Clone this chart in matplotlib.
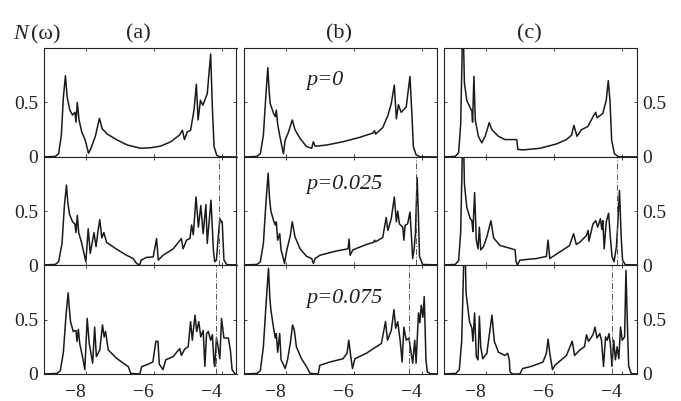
import matplotlib
matplotlib.use('Agg')
import matplotlib.pyplot as plt
from matplotlib import font_manager
import numpy as np

# Times-like serif, whichever is installed
installed = {f.name for f in font_manager.fontManager.ttflist}
serif = next(n for n in ['Liberation Serif', 'Tinos', 'Times New Roman', 'STIXGeneral', 'DejaVu Serif']
             if n in installed)
plt.rcParams['font.family'] = [serif, 'DejaVu Serif']

# (omega, N(omega)) points, one list per panel
a1 = [(-9.3, 0), (-8.9, 0.005), (-8.8, 0.03), (-8.72, 0.2), (-8.66, 0.55), (-8.60, 0.745),
      (-8.55, 0.55), (-8.47, 0.43), (-8.39, 0.385), (-8.32, 0.41), (-8.29, 0.32), (-8.25, 0.50),
      (-8.20, 0.34), (-8.12, 0.23), (-8.02, 0.156), (-7.92, 0.034), (-7.85, 0.08), (-7.72, 0.19),
      (-7.60, 0.355), (-7.52, 0.26), (-7.37, 0.21), (-7.08, 0.156), (-6.78, 0.11), (-6.39, 0.08),
      (-6.1, 0.085), (-5.8, 0.10), (-5.5, 0.14), (-5.25, 0.20), (-5.16, 0.245), (-5.1, 0.16),
      (-5.02, 0.23), (-4.92, 0.245), (-4.82, 0.43), (-4.75, 0.667), (-4.70, 0.34), (-4.63, 0.52),
      (-4.56, 0.475), (-4.43, 0.58), (-4.33, 0.945), (-4.28, 0.46), (-4.23, 0.095), (-4.15, 0.015),
      (-4.05, 0.002), (-3.4, 0)]
b1 = [(-9.3, 0), (-8.85, 0.005), (-8.75, 0.03), (-8.66, 0.2), (-8.59, 0.55), (-8.53, 0.82),
      (-8.49, 0.6), (-8.46, 0.49), (-8.36, 0.40), (-8.31, 0.37), (-8.28, 0.43), (-8.24, 0.30),
      (-8.17, 0.18), (-8.07, 0.03), (-8.02, 0.155), (-7.92, 0.23), (-7.81, 0.34), (-7.73, 0.25),
      (-7.58, 0.17), (-7.39, 0.095), (-7.24, 0.08), (-7.19, 0.14), (-7.14, 0.10), (-7.09, 0.10),
      (-6.80, 0.11), (-6.32, 0.14), (-5.83, 0.18), (-5.44, 0.22), (-5.39, 0.24), (-5.36, 0.21),
      (-5.15, 0.27), (-5.0, 0.38), (-4.9, 0.49), (-4.81, 0.66), (-4.75, 0.35), (-4.69, 0.48),
      (-4.61, 0.41), (-4.46, 0.46), (-4.35, 0.74), (-4.29, 0.37), (-4.25, 0.095), (-4.17, 0.02),
      (-4.05, 0.002), (-3.4, 0)]
c1 = [(-9.3, 0), (-8.9, 0.005), (-8.8, 0.04), (-8.74, 0.3), (-8.7, 0.9), (-8.68, 1.4),
      (-8.63, 0.68), (-8.56, 0.52), (-8.46, 0.45), (-8.41, 0.42), (-8.39, 0.32), (-8.35, 0.74),
      (-8.31, 0.34), (-8.22, 0.19), (-8.12, 0.13), (-8.02, 0.19), (-7.90, 0.315), (-7.82, 0.25),
      (-7.63, 0.19), (-7.44, 0.16), (-7.09, 0.16), (-7.06, 0.07), (-6.90, 0.065), (-6.41, 0.08),
      (-5.92, 0.12), (-5.63, 0.16), (-5.48, 0.20), (-5.41, 0.29), (-5.32, 0.19), (-5.19, 0.25),
      (-5.0, 0.28), (-4.83, 0.38), (-4.77, 0.41), (-4.73, 0.36), (-4.56, 0.40), (-4.46, 0.52),
      (-4.40, 0.70), (-4.35, 0.52), (-4.30, 0.155), (-4.22, 0.03), (-4.1, 0.002), (-3.4, 0)]

a2 = [(-9.3, 0), (-8.9, 0.005), (-8.8, 0.03), (-8.7, 0.2), (-8.63, 0.55), (-8.57, 0.74),
      (-8.53, 0.58), (-8.48, 0.47), (-8.39, 0.40), (-8.32, 0.38), (-8.29, 0.30), (-8.25, 0.46),
      (-8.21, 0.30), (-8.12, 0.20), (-8.0, 0.03), (-7.93, 0.335), (-7.87, 0.107), (-7.76, 0.30),
      (-7.70, 0.17), (-7.64, 0.32), (-7.59, 0.42), (-7.53, 0.25), (-7.47, 0.30), (-7.39, 0.21),
      (-7.10, 0.147), (-6.8, 0.09), (-6.61, 0.06), (-6.51, 0.015), (-6.42, 0.0), (-6.37, 0.046),
      (-6.22, 0.07), (-6.02, 0.075), (-5.92, 0.245), (-5.87, 0.046), (-5.73, 0.09), (-5.43, 0.15),
      (-5.19, 0.245), (-5.14, 0.15), (-5.04, 0.23), (-4.94, 0.245), (-4.89, 0.37), (-4.84, 0.28),
      (-4.76, 0.63), (-4.69, 0.35), (-4.62, 0.55), (-4.55, 0.29), (-4.47, 0.56), (-4.43, 0.20),
      (-4.32, 0.60), (-4.25, 0.14), (-4.21, 0.03), (-4.16, 0.046), (-4.11, 0.245), (-4.06, 0.43),
      (-4.01, 0.40), (-3.99, 0.40), (-3.94, 0.046), (-3.85, 0.003), (-3.4, 0)]
b2 = [(-9.3, 0), (-8.85, 0.005), (-8.75, 0.03), (-8.66, 0.2), (-8.58, 0.6), (-8.52, 0.85),
      (-8.48, 0.62), (-8.44, 0.50), (-8.36, 0.41), (-8.31, 0.37), (-8.28, 0.40), (-8.24, 0.23),
      (-8.18, 0.29), (-8.14, 0.14), (-8.09, 0.08), (-8.04, 0.015), (-7.97, 0.14), (-7.87, 0.27),
      (-7.81, 0.40), (-7.73, 0.26), (-7.58, 0.15), (-7.39, 0.08), (-7.24, 0.06), (-7.19, 0.015),
      (-7.14, 0.06), (-7.0, 0.09), (-6.51, 0.13), (-6.17, 0.15), (-6.14, 0.24), (-6.11, 0.09),
      (-6.03, 0.14), (-5.63, 0.19), (-5.42, 0.21), (-5.39, 0.23), (-5.36, 0.215), (-5.15, 0.255),
      (-5.05, 0.44), (-5.0, 0.32), (-4.90, 0.43), (-4.81, 0.63), (-4.75, 0.40), (-4.71, 0.50),
      (-4.66, 0.38), (-4.56, 0.35), (-4.53, 0.23), (-4.49, 0.37), (-4.42, 0.38), (-4.35, 0.49),
      (-4.30, 0.23), (-4.27, 0.06), (-4.23, 0.14), (-4.19, 0.29), (-4.14, 0.81), (-4.10, 0.44),
      (-4.07, 0.08), (-3.98, 0.005), (-3.4, 0)]
c2 = [(-9.3, 0), (-8.9, 0.005), (-8.8, 0.04), (-8.74, 0.3), (-8.7, 0.9), (-8.67, 1.4),
      (-8.63, 0.75), (-8.56, 0.535), (-8.46, 0.43), (-8.41, 0.41), (-8.38, 0.31), (-8.33, 0.67),
      (-8.28, 0.23), (-8.23, 0.15), (-8.19, 0.35), (-8.15, 0.14), (-8.07, 0.17), (-7.97, 0.26),
      (-7.85, 0.41), (-7.77, 0.25), (-7.58, 0.18), (-7.29, 0.155), (-7.14, 0.14), (-7.11, 0.03),
      (-7.07, 0.0), (-7.0, 0.045), (-6.51, 0.06), (-6.22, 0.08), (-6.17, 0.23), (-6.12, 0.06),
      (-5.83, 0.12), (-5.54, 0.18), (-5.42, 0.29), (-5.34, 0.19), (-5.24, 0.21), (-5.05, 0.27),
      (-4.99, 0.32), (-4.97, 0.22), (-4.85, 0.38), (-4.77, 0.41), (-4.71, 0.35), (-4.63, 0.43),
      (-4.59, 0.33), (-4.56, 0.41), (-4.52, 0.15), (-4.46, 0.40), (-4.39, 0.48), (-4.34, 0.26),
      (-4.29, 0.08), (-4.23, 0.03), (-4.16, 0.17), (-4.12, 0.38), (-4.07, 0.69), (-4.02, 0.26),
      (-3.98, 0.045), (-3.9, 0.003), (-3.4, 0)]

a3 = [(-9.3, 0), (-8.85, 0.005), (-8.75, 0.03), (-8.66, 0.2), (-8.58, 0.55), (-8.52, 0.745),
      (-8.48, 0.58), (-8.45, 0.48), (-8.37, 0.39), (-8.29, 0.40), (-8.26, 0.30), (-8.22, 0.41),
      (-8.18, 0.28), (-8.08, 0.13), (-8.03, 0.04), (-7.96, 0.51), (-7.90, 0.28), (-7.80, 0.10),
      (-7.74, 0.43), (-7.69, 0.16), (-7.59, 0.22), (-7.51, 0.45), (-7.46, 0.34), (-7.42, 0.39),
      (-7.34, 0.22), (-7.10, 0.145), (-6.9, 0.10), (-6.75, 0.067), (-6.68, 0.005), (-6.41, 0.0),
      (-6.36, 0.067), (-6.17, 0.09), (-6.03, 0.11), (-5.94, 0.30), (-5.88, 0.30), (-5.84, 0.09),
      (-5.73, 0.04), (-5.65, 0.13), (-5.43, 0.16), (-5.24, 0.234), (-5.19, 0.17), (-5.09, 0.23),
      (-4.99, 0.25), (-4.92, 0.48), (-4.87, 0.31), (-4.79, 0.54), (-4.74, 0.39), (-4.68, 0.48),
      (-4.62, 0.34), (-4.55, 0.40), (-4.50, 0.07), (-4.45, 0.37), (-4.40, 0.39), (-4.33, 0.31),
      (-4.28, 0.36), (-4.23, 0.10), (-4.21, 0.07), (-4.16, 0.33), (-4.11, 0.25), (-4.06, 0.14),
      (-4.01, 0.51), (-3.94, 0.33), (-3.81, 0.33), (-3.75, 0.22), (-3.70, 0.04), (-3.62, 0.003),
      (-3.4, 0)]
b3 = [(-9.3, 0), (-8.85, 0.005), (-8.75, 0.03), (-8.66, 0.25), (-8.58, 0.65), (-8.51, 0.97),
      (-8.47, 0.7), (-8.44, 0.59), (-8.36, 0.42), (-8.31, 0.33), (-8.28, 0.37), (-8.24, 0.20),
      (-8.18, 0.37), (-8.14, 0.13), (-8.09, 0.10), (-8.02, 0.05), (-7.95, 0.13), (-7.87, 0.28),
      (-7.80, 0.45), (-7.75, 0.40), (-7.69, 0.25), (-7.54, 0.14), (-7.39, 0.067), (-7.29, 0.006),
      (-7.05, 0.0), (-7.0, 0.08), (-6.70, 0.11), (-6.32, 0.14), (-6.20, 0.19), (-6.15, 0.31),
      (-6.09, 0.16), (-6.04, 0.05), (-5.97, 0.14), (-5.63, 0.19), (-5.44, 0.23), (-5.19, 0.28),
      (-5.07, 0.48), (-5.01, 0.31), (-4.90, 0.40), (-4.82, 0.59), (-4.77, 0.42), (-4.71, 0.48),
      (-4.64, 0.31), (-4.58, 0.11), (-4.53, 0.43), (-4.46, 0.31), (-4.38, 0.33), (-4.32, 0.20),
      (-4.27, 0.10), (-4.21, 0.31), (-4.17, 0.10), (-4.10, 0.56), (-4.06, 0.47), (-4.02, 0.63),
      (-3.97, 0.52), (-3.93, 0.71), (-3.88, 0.13), (-3.84, 0.02), (-3.75, 0.002), (-3.4, 0)]
c3 = [(-9.3, 0), (-8.88, 0.005), (-8.78, 0.04), (-8.71, 0.3), (-8.66, 0.9), (-8.63, 1.4),
      (-8.58, 0.74), (-8.48, 0.48), (-8.41, 0.42), (-8.38, 0.30), (-8.33, 0.56), (-8.28, 0.16),
      (-8.23, 0.13), (-8.19, 0.53), (-8.15, 0.25), (-8.09, 0.14), (-7.97, 0.19), (-7.82, 0.54),
      (-7.75, 0.30), (-7.63, 0.20), (-7.44, 0.17), (-7.36, 0.19), (-7.31, 0.13), (-7.29, 0.02),
      (-7.22, 0.0), (-7.0, 0.0), (-6.92, 0.05), (-6.66, 0.07), (-6.32, 0.11), (-6.22, 0.19),
      (-6.17, 0.32), (-6.12, 0.19), (-6.04, 0.04), (-5.97, 0.08), (-5.63, 0.17), (-5.46, 0.30),
      (-5.39, 0.17), (-5.24, 0.22), (-5.10, 0.25), (-5.04, 0.36), (-4.98, 0.30), (-4.85, 0.36),
      (-4.79, 0.43), (-4.73, 0.33), (-4.65, 0.37), (-4.60, 0.31), (-4.54, 0.07), (-4.48, 0.34),
      (-4.43, 0.31), (-4.38, 0.37), (-4.34, 0.28), (-4.29, 0.07), (-4.24, 0.31), (-4.19, 0.13),
      (-4.14, 0.25), (-4.09, 0.14), (-4.04, 0.43), (-3.99, 0.31), (-3.92, 0.34), (-3.88, 0.95),
      (-3.83, 0.37), (-3.80, 0.07), (-3.72, 0.003), (-3.4, 0)]

curves = [[a1, b1, c1], [a2, b2, c2], [a3, b3, c3]]
columns = ['(a)', '(b)', '(c)']
p_labels = ['p=0', 'p=0.025', 'p=0.075']
# dash-dot markers (rows 2 and 3)
cuts = [[None, None, None], [-4.09, -4.17, -4.13], [-4.18, -4.37, -4.30]]
xticks = [-8, -6, -4]
yticks = [0, 0.5]

W, H = 681, 401
fig = plt.figure(figsize=(W / 100, H / 100), dpi=100)

lefts = [44, 244, 444]
width = 192.5
tops = [48, 157, 265]
bottoms = [157, 265, 374]
p_y = [0.66, 0.70, 0.65]

for r in range(3):
    for c in range(3):
        ax = fig.add_axes([lefts[c] / W, 1 - bottoms[r] / H, width / W, (bottoms[r] - tops[r]) / H])
        pts = np.array(curves[r][c])
        ax.plot(pts[:, 0], pts[:, 1], color='#1a1a1a', lw=1.1, solid_joinstyle='round')
        if cuts[r][c] is not None:
            ax.axvline(cuts[r][c], color='#555555', lw=0.7, dashes=(6, 2, 1, 2))
        ax.set_xlim(-9.23, -3.57)
        ax.set_ylim(0, 1.0)
        ax.set_xticks(xticks)
        ax.set_yticks(yticks)
        ax.set_yticklabels(['0', '0.5'])
        ax.tick_params(direction='in', top=True, right=True, length=2.5, width=0.6,
                       labelsize=14, colors='#222222')
        ax.tick_params(axis='y', pad=4)
        ax.tick_params(axis='x', pad=7)
        if r == 2:
            ax.set_xticklabels(['\u2212%d' % -t for t in xticks], ha='right')
        else:
            ax.tick_params(labelbottom=False)
        if c == 0:
            ax.tick_params(labelleft=True, labelright=False)
        elif c == 2:
            ax.tick_params(labelleft=False, labelright=True)
        else:
            ax.tick_params(labelleft=False, labelright=False)
        for s in ax.spines.values():
            s.set_linewidth(0.8)
            s.set_color('#222222')
        if c == 1:
            ax.text(0.326, p_y[r], p_labels[r], transform=ax.transAxes, fontsize=16,
                    fontstyle='italic', ha='left', va='baseline', color='#222222')

title_x = [138, 339, 529]
for c in range(3):
    fig.text(title_x[c] / W, 1 - 38 / H, columns[c], fontsize=16, ha='center',
             va='baseline', color='#222222')
fig.text(13 / W, 1 - 39 / H, 'N', fontsize=16, fontstyle='italic', ha='left',
         va='baseline', color='#222222')
fig.text(31 / W, 1 - 39 / H, '(\u03c9)', fontsize=16, ha='left', va='baseline',
         color='#222222')

fig.savefig('out.png', dpi=100)
